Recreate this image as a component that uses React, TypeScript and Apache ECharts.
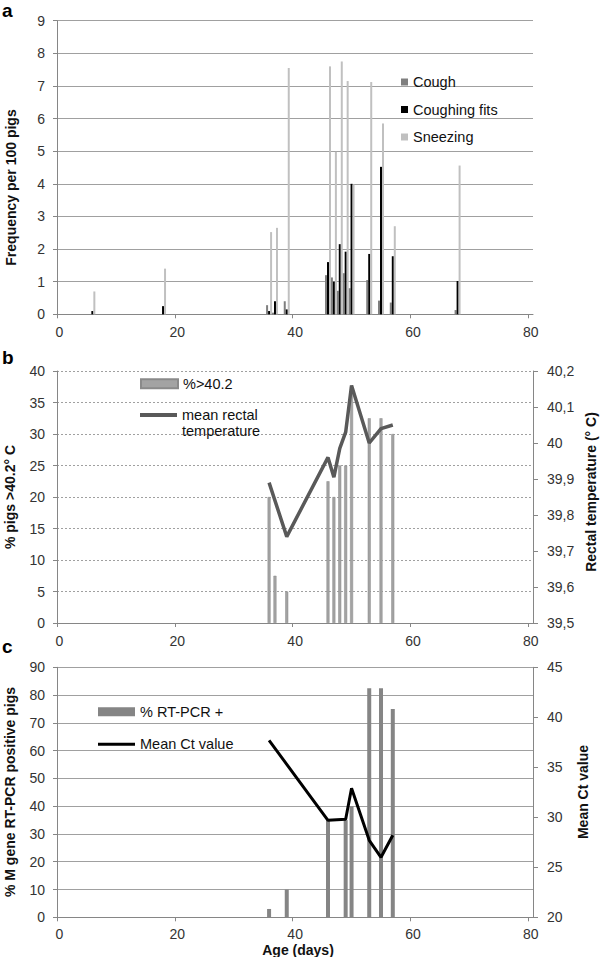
import React, { useEffect, useRef } from "react";
import * as echarts from "echarts";

// ---- Panel a: clinical signs ----
const symptomDays = [6, 18, 36, 37, 39, 46, 47, 48, 49, 50, 53, 55, 57, 68];
const cough = [0, 0, 0.28, 0.05, 0.4, 1.2, 1.13, 0.72, 1.26, 0.8, 1.05, 0.42, 0.36, 0.13];
const coughingFits = [0.1, 0.25, 0.1, 0.4, 0.15, 1.6, 1.0, 2.15, 1.92, 4.0, 1.85, 4.52, 1.78, 1.02];
const sneezing = [0.7, 1.4, 2.52, 2.65, 7.55, 7.6, 4.98, 7.75, 7.15, 3.98, 7.12, 5.85, 2.7, 4.56];

// ---- Panel b: fever ----
const feverDays = [36, 37, 39, 46, 47, 48, 49, 50, 53, 55, 57];
const pctFever = [20, 7.5, 5, 22.5, 20, 25, 25, 37.5, 32.5, 32.5, 30];
const tempDays = [36, 39, 46, 47, 48, 49, 50, 53, 55, 57];
const meanTemp = [39.89, 39.74, 39.96, 39.905, 39.985, 40.03, 40.16, 40.0, 40.04, 40.05];

// ---- Panel c: RT-PCR ----
const pcrDays = [36, 39, 46, 49, 50, 53, 55, 57];
const pctPcr = [3, 10, 35, 35, 40, 82.5, 82.5, 75];
const ctDays = [36, 39, 46, 49, 50, 53, 55, 57];
const meanCt = [37.7, 35.3, 29.7, 29.8, 32.9, 27.7, 26.0, 28.2];

const xTicks = [0, 20, 40, 60, 80];

const FONT = '"Liberation Sans", Arial, sans-serif';
const AXIS_GRAY = "#868686";
const GRID_GRAY = "#a0a0a0";
const LABEL = "#333";

function xAxisFor(gridIndex: number, margin = 11) {
  return {
    type: "value",
    gridIndex,
    min: 0,
    max: 80.8,
    axisLine: { show: true, onZero: false, lineStyle: { color: AXIS_GRAY, width: 1 } },
    axisTick: { show: true, length: 4, customValues: xTicks, lineStyle: { color: AXIS_GRAY } },
    axisLabel: {
      customValues: xTicks,
      color: LABEL,
      fontSize: 14,
      fontFamily: FONT,
      margin,
      padding: [0, 0, 0, 5],
    },
    splitLine: { show: false },
  };
}

function yAxisFor(gridIndex: number, min: number, max: number, interval: number, opts: any = {}) {
  return {
    type: "value",
    gridIndex,
    min,
    max,
    interval,
    axisLine: { show: true, lineStyle: { color: AXIS_GRAY, width: 1 } },
    axisTick: { show: true, length: 4, lineStyle: { color: AXIS_GRAY } },
    axisLabel: { color: LABEL, fontSize: 14, fontFamily: FONT, margin: 12 },
    splitLine: { show: true, lineStyle: { color: GRID_GRAY, width: 1 } },
    ...opts,
  };
}

const pair = (xs: number[], ys: number[]) => xs.map((x, i) => [x, ys[i]]);

function rotTitle(text: string, x: number, y: number) {
  return {
    type: "text",
    x,
    y,
    rotation: Math.PI / 2,
    style: {
      text,
      font: `bold 14px ${FONT}`,
      fill: "#111",
      align: "center",
      verticalAlign: "middle",
    },
  };
}

function panelLetter(text: string, x: number, y: number) {
  return {
    type: "text",
    x,
    y,
    style: {
      text,
      font: `bold 19px ${FONT}`,
      fill: "#000",
      align: "left",
      verticalAlign: "middle",
    },
  };
}

export default function App() {
  const ref = useRef<HTMLDivElement>(null);

  useEffect(() => {
    if (!ref.current) return;
    const chart = echarts.init(ref.current, undefined, { renderer: "svg" });

    const option: any = {
      animation: false,
      backgroundColor: "#fff",
      textStyle: { fontFamily: FONT },
      grid: [
        { left: 57, right: 67, top: 20.7, height: 293.6 },
        { left: 57, right: 67, top: 371, height: 252 },
        { left: 57, right: 67, top: 667.3, height: 250 },
      ],
      xAxis: [xAxisFor(0), xAxisFor(1), xAxisFor(2, 10)],
      yAxis: [
        yAxisFor(0, 0, 9, 1),
        yAxisFor(1, 0, 40, 5, {
          splitLine: { show: true, lineStyle: { color: GRID_GRAY, width: 1, type: [2, 2] } },
        }),
        yAxisFor(1, 39.5, 40.2, 0.1, {
          position: "right",
          splitLine: { show: false },
          axisTick: { show: true, length: 5, lineStyle: { color: AXIS_GRAY } },
          axisLabel: {
            color: LABEL,
            fontSize: 14,
            fontFamily: FONT,
            margin: 14,
            formatter: (v: number) => String(Math.round(v * 10) / 10).replace(".", ","),
          },
        }),
        yAxisFor(2, 0, 90, 10),
        yAxisFor(2, 20, 45, 5, {
          position: "right",
          splitLine: { show: false },
          axisTick: { show: true, length: 5, lineStyle: { color: AXIS_GRAY } },
          axisLabel: { color: LABEL, fontSize: 14, fontFamily: FONT, margin: 14 },
        }),
      ],
      legend: [
        {
          data: ["Cough", "Coughing fits", "Sneezing"],
          orient: "vertical",
          left: 401,
          top: 74.5,
          padding: 0,
          itemWidth: 7,
          itemHeight: 7,
          itemGap: 12.5,
          itemTextGap: 2,
          icon: "rect",
          selectedMode: false,
          textStyle: { fontSize: 14.5, color: "#111", fontFamily: FONT },
        },
        {
          data: [{ name: "%>40.2", icon: "rect" }],
          left: 140,
          top: 376.3,
          padding: 0,
          itemWidth: 37,
          itemHeight: 9,
          itemTextGap: 3,
          selectedMode: false,
          textStyle: { fontSize: 14.5, color: "#111", fontFamily: FONT },
        },
        {
          data: [{ name: "mean rectal temperature", icon: "path://M0,0H37V4H0Z" }],
          left: 140,
          top: 391,
          padding: 0,
          itemWidth: 37,
          itemHeight: 9,
          itemTextGap: 3,
          selectedMode: false,
          formatter: () => "\nmean rectal\ntemperature",
          textStyle: {
            fontSize: 14.5,
            color: "#111",
            fontFamily: FONT,
            lineHeight: 16,
          },
        },
        {
          data: [
            { name: "% RT-PCR +", icon: "rect" },
            { name: "Mean Ct value", icon: "path://M0,0H37V3H0Z" },
          ],
          orient: "vertical",
          left: 98,
          top: 704.3,
          padding: 0,
          itemWidth: 37,
          itemHeight: 9,
          itemGap: 17.5,
          itemTextGap: 3,
          selectedMode: false,
          textStyle: { fontSize: 14.5, color: "#111", fontFamily: FONT },
        },
      ],
      graphic: [
        panelLetter("a", 2, 10.5),
        panelLetter("b", 2, 357),
        panelLetter("c", 2, 646),
        rotTitle("Frequency per 100 pigs", 11, 187.5),
        rotTitle("% pigs >40.2° C", 10, 497),
        rotTitle("Rectal temperature (° C)", 591, 492),
        rotTitle("% M gene RT-PCR positive pigs", 10, 792),
        rotTitle("Mean Ct value", 583, 792),
        {
          type: "text",
          x: 298,
          y: 950,
          style: {
            text: "Age (days)",
            font: `bold 14px ${FONT}`,
            fill: "#111",
            align: "center",
            verticalAlign: "middle",
          },
        },
      ],
      series: [
        {
          name: "Cough",
          type: "bar",
          xAxisIndex: 0,
          yAxisIndex: 0,
          barWidth: 2,
          barGap: "0%",
          itemStyle: { color: "#7f7f7f" },
          data: pair(symptomDays, cough),
        },
        {
          name: "Coughing fits",
          type: "bar",
          xAxisIndex: 0,
          yAxisIndex: 0,
          barWidth: 2,
          barGap: "0%",
          itemStyle: { color: "#000000" },
          data: pair(symptomDays, coughingFits),
        },
        {
          name: "Sneezing",
          type: "bar",
          xAxisIndex: 0,
          yAxisIndex: 0,
          barWidth: 2,
          barGap: "0%",
          itemStyle: { color: "#c0c0c0" },
          data: pair(symptomDays, sneezing),
        },
        {
          name: "%>40.2",
          type: "bar",
          xAxisIndex: 1,
          yAxisIndex: 1,
          barWidth: 3,
          itemStyle: { color: "#a3a3a3", borderColor: "#8a8a8a", borderWidth: 0.5 },
          data: pair(feverDays, pctFever),
        },
        {
          name: "mean rectal temperature",
          type: "line",
          xAxisIndex: 1,
          yAxisIndex: 2,
          symbol: "none",
          showSymbol: false,
          lineStyle: { color: "#595959", width: 3.5 },
          itemStyle: { color: "#595959" },
          data: pair(tempDays, meanTemp),
          z: 3,
        },
        {
          name: "% RT-PCR +",
          type: "bar",
          xAxisIndex: 2,
          yAxisIndex: 3,
          barWidth: 4,
          itemStyle: { color: "#858585" },
          data: pair(pcrDays, pctPcr),
        },
        {
          name: "Mean Ct value",
          type: "line",
          xAxisIndex: 2,
          yAxisIndex: 4,
          symbol: "none",
          showSymbol: false,
          lineStyle: { color: "#000000", width: 3 },
          itemStyle: { color: "#000000" },
          data: pair(ctDays, meanCt),
          z: 3,
        },
      ],
    };

    chart.setOption(option);
    return () => chart.dispose();
  }, []);

  return (
    <div
      ref={ref}
      style={{ position: "fixed", left: 0, top: 0, width: 600, height: 957, background: "#fff" }}
    />
  );
}
